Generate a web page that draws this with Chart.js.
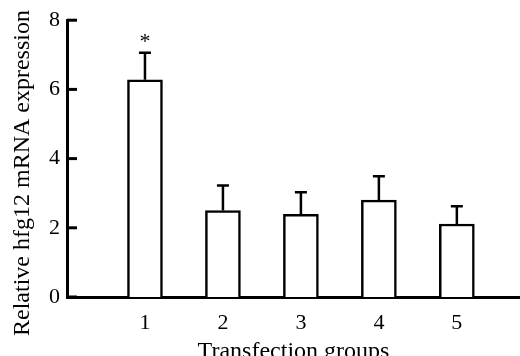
<!DOCTYPE html>
<html>
<head>
<meta charset="utf-8">
<script src="https://cdn.jsdelivr.net/npm/chart.js@4"></script>
<style>
  html, body { margin: 0; padding: 0; background: #fff; }
  #wrap { width: 520px; height: 356px; overflow: hidden; }
</style>
</head>
<body>
<div id="wrap"><canvas id="chart" width="520" height="356"></canvas></div>
<script>
// values
const groups = ['1', '2', '3', '4', '5'];
const means = [6.28, 2.5, 2.39, 2.8, 2.11];
const errors = [0.78, 0.72, 0.64, 0.69, 0.51];
const marks = ['*', '', '', '', ''];
const yTicks = [0, 2, 4, 6, 8];
const yTitle = 'Relative hfg12 mRNA expression';
const xTitle = 'Transfection groups';

const serif = 'Liberation Serif';

// error bars, significance star, inward y ticks, y title
const extras = {
  id: 'extras',
  afterDatasetsDraw(chart) {
    const ctx = chart.ctx;
    const x = chart.scales.x, y = chart.scales.y;
    ctx.save();
    ctx.strokeStyle = '#000';
    ctx.fillStyle = '#000';
    ctx.lineWidth = 2.5;
    means.forEach(function (m, i) {
      const px = x.getPixelForValue(i + 1);
      const base = y.getPixelForValue(m);
      const top = y.getPixelForValue(m + errors[i]);
      ctx.beginPath();
      ctx.moveTo(px, base);
      ctx.lineTo(px, top);
      ctx.moveTo(px - 6, top);
      ctx.lineTo(px + 6, top);
      ctx.stroke();
      if (marks[i]) {
        ctx.font = '22px "' + serif + '"';
        ctx.textAlign = 'center';
        ctx.textBaseline = 'alphabetic';
        ctx.fillText(marks[i], px, top - 5);
      }
    });
    ctx.lineWidth = 3;
    y.ticks.forEach(function (t) {
      const py = y.getPixelForValue(t.value);
      ctx.beginPath();
      ctx.moveTo(x.left, py);
      ctx.lineTo(x.left + 10, py);
      ctx.stroke();
    });
    // y title sits a bit below the plot centre in the original
    ctx.translate(23, 173);
    ctx.rotate(-Math.PI / 2);
    ctx.font = '24px "' + serif + '"';
    ctx.textAlign = 'center';
    ctx.textBaseline = 'middle';
    ctx.fillText(yTitle, 0, 0);
    ctx.restore();
  }
};

new Chart(document.getElementById('chart'), {
  type: 'bar',
  data: {
    datasets: [{
      data: means.map(function (m, i) { return {x: i + 1, y: m}; }),
      backgroundColor: '#fff',
      borderColor: '#000',
      borderWidth: 2.5,
      barThickness: 35
    }]
  },
  options: {
    responsive: false,
    animation: false,
    devicePixelRatio: 1,
    layout: {padding: {top: 17, right: 0, left: 0, bottom: 0}},
    plugins: {legend: {display: false}, tooltip: {enabled: false}},
    scales: {
      x: {
        type: 'linear',
        offset: false,
        min: 0,
        max: 5.81,
        afterBuildTicks: function (s) {
          s.ticks = groups.map(function (g, i) { return {value: i + 1}; });
        },
        afterFit: function (s) { s.height = 59; },
        grid: {display: false, drawTicks: false, offset: false},
        border: {color: '#000', width: 3},
        ticks: {
          color: '#000',
          padding: 13,
          maxRotation: 0,
          font: {family: serif, size: 22},
          callback: function (v) { return groups[v - 1]; }
        },
        title: {
          display: true,
          text: xTitle,
          color: '#000',
          font: {family: serif, size: 24},
          padding: {top: 0, bottom: -10}
        }
      },
      y: {
        min: 0,
        max: 8,
        afterBuildTicks: function (s) {
          s.ticks = yTicks.map(function (v) { return {value: v}; });
        },
        afterFit: function (s) { s.width = 67; },
        grid: {display: false, drawTicks: false},
        border: {color: '#000', width: 3},
        ticks: {
          color: '#000',
          padding: 7,
          font: {family: serif, size: 22}
        }
      }
    }
  },
  plugins: [extras]
});
</script>
</body>
</html>
